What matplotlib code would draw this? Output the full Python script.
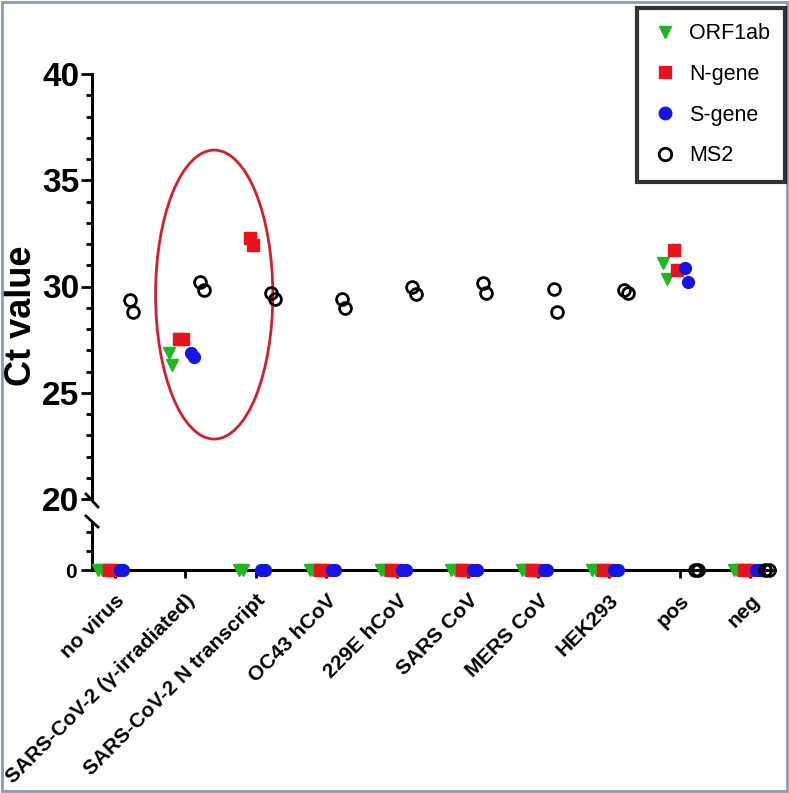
import numpy as np
import matplotlib
matplotlib.use('Agg')
import matplotlib.pyplot as plt
from matplotlib.patches import Ellipse, Rectangle
from matplotlib.lines import Line2D

plt.rcParams['font.family'] = ['Liberation Sans', 'DejaVu Sans']

# ── data: Ct values, two replicates per sample (0 = not detected) ──
categories = ['no virus', 'SARS-CoV-2 (γ-irradiated)', 'SARS-CoV-2 N transcript',
              'OC43 hCoV', '229E hCoV', 'SARS CoV', 'MERS CoV', 'HEK293', 'pos', 'neg']
orf1ab = [[0, 0], [26.85, 26.3], [0, 0], [0, 0], [0, 0], [0, 0], [0, 0], [0, 0], [31.1, 30.35], [0, 0]]
n_gene = [[0, 0], [27.55, 27.55], [32.3, 31.95], [0, 0], [0, 0], [0, 0], [0, 0], [0, 0], [31.7, 30.8], [0, 0]]
s_gene = [[0, 0], [26.85, 26.7], [0, 0], [0, 0], [0, 0], [0, 0], [0, 0], [0, 0], [30.85, 30.2], [0, 0]]
ms2 = [[29.35, 28.8], [30.2, 29.85], [29.7, 29.4], [29.4, 29.0], [30.0, 29.65],
       [30.15, 29.7], [29.9, 28.8], [29.85, 29.7], [0, 0], [0, 0]]

series = [
    ('ORF1ab', orf1ab, dict(marker='v', color='#1fb81f', mec='#1fb81f'), -0.21),
    ('N-gene', n_gene, dict(marker='s', color='#e8141c', mec='#e8141c'), -0.06),
    ('S-gene', s_gene, dict(marker='o', color='#1414e6', mec='#1414e6'), 0.10),
    ('MS2', ms2, dict(marker='o', color='none', mec='black', mew=2), 0.24),
]
rep_dx = [-0.025, 0.025]

W, H = 789, 793
fig = plt.figure(figsize=(W / 100, H / 100), dpi=100)
x0, x1 = 92, 775
ax_top = fig.add_axes([x0 / W, 1 - 499 / H, (x1 - x0) / W, (499 - 74) / H])
ax_bot = fig.add_axes([x0 / W, 1 - 570 / H, (x1 - x0) / W, (570 - 523) / H])

xpos = np.arange(len(categories))
for name, vals, st, off in series:
    vals = np.array(vals, dtype=float)
    for r in range(vals.shape[1]):
        xs = xpos + off + rep_dx[r]
        ys = vals[:, r]
        hi = ys >= 5
        lo = ~hi
        ax_top.plot(xs[hi], ys[hi], ls='none', ms=8.5, **st)
        ax_bot.plot(xs[lo], ys[lo], ls='none', ms=8.5, clip_on=False, zorder=5, **st)

for ax in (ax_top, ax_bot):
    ax.set_xlim(-0.32, 9.35)
    for s in ('top', 'right'):
        ax.spines[s].set_visible(False)
    ax.spines['left'].set_linewidth(2.2)
    ax.tick_params(axis='y', which='major', length=8, width=2, direction='out', pad=1)
    ax.tick_params(axis='y', which='minor', length=4.5, width=2, direction='out')

ax_top.spines['bottom'].set_visible(False)
ax_top.set_ylim(20, 40)
ax_top.set_xticks([])
ax_top.set_yticks([20, 25, 30, 35, 40])
ax_top.set_yticks(np.arange(20, 41, 1), minor=True)
ax_top.tick_params(axis='y', which='major', labelsize=24)
for t in ax_top.get_yticklabels():
    t.set_fontweight('bold')
ax_top.set_ylabel('Ct value', fontsize=26, fontweight='bold')
ax_top.yaxis.set_label_coords(-0.078, 0.43)

ax_bot.set_ylim(0, 2.5)
ax_bot.set_yticks([0])
ax_bot.set_yticks([1, 2], minor=True)
ax_bot.tick_params(axis='y', which='major', labelsize=15, pad=3)
ax_bot.spines['bottom'].set_linewidth(2.2)
ax_bot.set_xticks(xpos)
ax_bot.set_xticklabels(categories, rotation=45, ha='right', rotation_mode='anchor',
                       fontsize=15, fontweight='bold')
ax_bot.tick_params(axis='x', length=6, width=2, pad=9)
for t in ax_bot.get_yticklabels():
    t.set_fontweight('bold')

# axis break marks
for (ya, yb) in [(494, 507), (516, 527)]:
    fig.add_artist(Line2D([86 / W, 98 / W], [1 - ya / H, 1 - yb / H], color='black', lw=2))

# highlight ellipse
ax_top.add_patch(Ellipse((1.41, 29.62), width=1.66, height=13.6, fill=False,
                         ec='#d0202c', lw=2))

# legend
handles = [Line2D([], [], ls='none', ms=9, **st) for _, _, st, _ in series]
labels = [s[0] for s in series]
leg = fig.legend(handles, labels, loc='upper right', bbox_to_anchor=(785 / W, 1 - 8 / H),
                 fontsize=15.5, frameon=True, fancybox=False, edgecolor='black',
                 labelspacing=0.92, handletextpad=0.5, borderpad=0.7, handlelength=1.2,
                 borderaxespad=0)
leg.get_frame().set_linewidth(3)

# outer frame
fig.add_artist(Rectangle((0.002, 0.002), 0.996, 0.996, transform=fig.transFigure,
                         fill=False, ec='#8d9bb4', lw=2))

fig.savefig('out.png', dpi=100)
